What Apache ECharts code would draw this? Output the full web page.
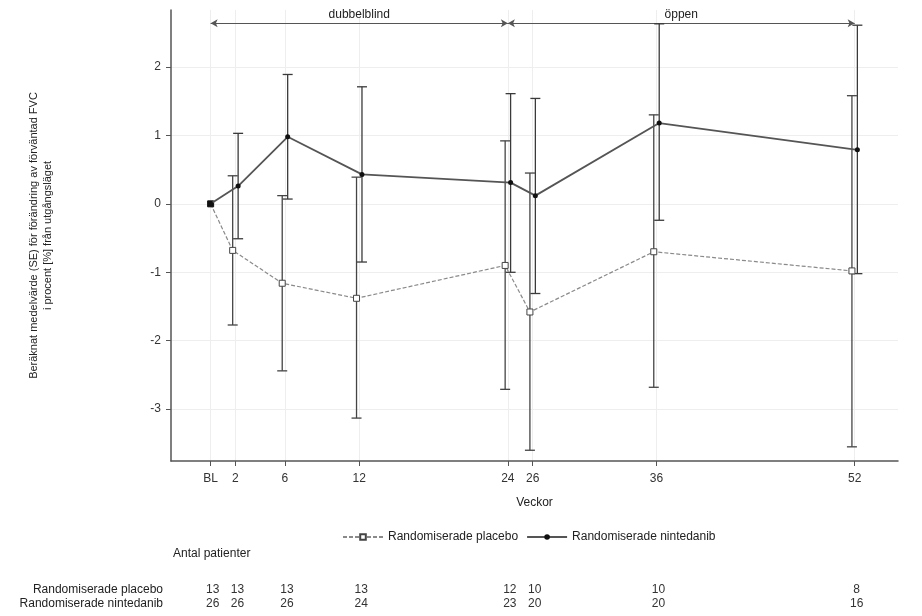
<!DOCTYPE html>
<html>
<head>
<meta charset="utf-8">
<script src="https://cdn.jsdelivr.net/npm/echarts@6/dist/echarts.min.js"></script>
<style>
  html, body { margin: 0; padding: 0; background: #fff; }
  #main { width: 922px; height: 616px; }
</style>
</head>
<body>
<div id="main"></div>
<script>
// veckor (BL = vecka 0)
var weeks = [0, 2, 6, 12, 24, 26, 36, 52];
var tickLabels = ['BL', '2', '6', '12', '24', '26', '36', '52'];
var yTicks = [-3, -2, -1, 0, 1, 2];

// placebo: medel, nedre och övre SE-gräns
var placeboMean = [0, -0.68, -1.16, -1.38, -0.90, -1.58, -0.70, -0.98];
var placeboLow  = [0, -1.77, -2.44, -3.13, -2.71, -3.60, -2.68, -3.55];
var placeboHigh = [0, 0.41, 0.12, 0.39, 0.92, 0.45, 1.30, 1.58];

// nintedanib
var ninMean = [0, 0.26, 0.98, 0.43, 0.31, 0.12, 1.18, 0.79];
var ninLow  = [0, -0.51, 0.07, -0.85, -1.00, -1.31, -0.24, -1.02];
var ninHigh = [0, 1.03, 1.89, 1.71, 1.61, 1.54, 2.63, 2.61];

// antal patienter
var placeboN = [13, 13, 13, 13, 12, 10, 10, 8];
var ninN     = [26, 26, 26, 24, 23, 20, 20, 16];

var periodNames = ['dubbelblind', 'öppen'];
var periodStart = [0, 24];
var periodEnd   = [24, 52];

var FONT = 'Liberation Sans, Arial, sans-serif';
var DODGE = 0.22;      // sidoförskjutning i veckor
var ARROW_Y = 2.64;

function dodge(w, dir) { return w === 0 ? w : w + dir * DODGE; }

function errorData(low, high, dir) {
    return weeks.map(function (w, i) { return [dodge(w, dir), low[i], high[i]]; });
}
function lineData(mean, dir, baseStyle) {
    return weeks.map(function (w, i) {
        var item = { value: [dodge(w, dir), mean[i]] };
        if (w === 0 && baseStyle) item.itemStyle = baseStyle;
        return item;
    });
}

function renderErr(color) {
    return function (params, api) {
        var lo = api.value(1), hi = api.value(2);
        if (lo === hi) return;
        var a = api.coord([api.value(0), hi]);
        var b = api.coord([api.value(0), lo]);
        var cap = 5;
        var st = { stroke: color, lineWidth: 1.3 };
        return {
            type: 'group',
            children: [
                { type: 'line', shape: { x1: a[0], y1: a[1], x2: b[0], y2: b[1] }, style: st },
                { type: 'line', shape: { x1: a[0] - cap, y1: a[1], x2: a[0] + cap, y2: a[1] }, style: st },
                { type: 'line', shape: { x1: b[0] - cap, y1: b[1], x2: b[0] + cap, y2: b[1] }, style: st }
            ]
        };
    };
}

var chart = echarts.init(document.getElementById('main'));

var option = {
    backgroundColor: '#fff',
    animation: false,
    textStyle: { fontFamily: FONT },
    grid: { left: 171, right: 24, top: 10, bottom: 155 },
    xAxis: {
        type: 'value',
        min: -3.2,
        max: 55.5,
        name: 'Veckor',
        nameLocation: 'middle',
        nameGap: 36,
        nameTextStyle: { color: '#222', fontSize: 12, fontFamily: FONT },
        axisLine: { onZero: false, lineStyle: { color: '#555', width: 1.5 } },
        axisTick: { customValues: weeks, length: 5, lineStyle: { color: '#555' } },
        axisLabel: {
            customValues: weeks,
            margin: 12,
            color: '#333',
            fontSize: 12,
            fontFamily: FONT,
            formatter: function (v) {
                var i = weeks.indexOf(v);
                return i >= 0 ? tickLabels[i] : '';
            }
        },
        splitLine: { show: false }
    },
    yAxis: {
        type: 'value',
        min: -3.757,
        max: 2.832,
        name: 'Beräknat medelvärde (SE) för förändring av förväntad FVC\ni procent [%] från utgångsläget',
        nameLocation: 'middle',
        nameGap: 116,
        nameTextStyle: { color: '#222', fontSize: 11, fontFamily: FONT, lineHeight: 14 },
        axisLine: { show: true, onZero: false, lineStyle: { color: '#555', width: 1.5 } },
        axisTick: { show: true, customValues: yTicks, length: 5, lineStyle: { color: '#555' } },
        axisLabel: { customValues: yTicks, margin: 10, color: '#333', fontSize: 12, fontFamily: FONT },
        splitLine: { show: false }
    },
    legend: {
        data: ['Randomiserade placebo', 'Randomiserade nintedanib'],
        left: 337,
        top: 526,
        itemWidth: 40,
        itemHeight: 7,
        itemGap: 8,
        textStyle: { color: '#222', fontSize: 12, fontFamily: FONT }
    },
    series: [
        {
            name: 'grid',
            type: 'line',
            data: [],
            z: 0,
            silent: true,
            markLine: {
                z: 0,
                silent: true,
                symbol: ['none', 'none'],
                label: { show: false },
                lineStyle: { color: '#eeeeee', width: 1, type: 'solid' },
                data: weeks.map(function (w) { return { xAxis: w }; })
                    .concat(yTicks.map(function (t) { return { yAxis: t }; }))
            }
        },
        {
            name: 'perioder',
            type: 'line',
            data: [],
            z: 5,
            silent: true,
            markLine: {
                z: 1,
                silent: true,
                symbol: ['arrow', 'arrow'],
                symbolSize: [6, 7],
                lineStyle: { color: '#555', width: 1.2, type: 'solid' },
                label: {
                    show: true,
                    position: 'middle',
                    color: '#222',
                    fontSize: 12,
                    fontFamily: FONT,
                    distance: 2,
                    formatter: function (p) { return p.name; }
                },
                data: periodNames.map(function (n, i) {
                    return [
                        { name: n, coord: [periodStart[i], ARROW_Y] },
                        { coord: [periodEnd[i], ARROW_Y] }
                    ];
                })
            }
        },
        {
            name: 'placebo SE',
            type: 'custom',
            z: 2,
            renderItem: renderErr('#444'),
            encode: { x: 0, y: [1, 2] },
            data: errorData(placeboLow, placeboHigh, -1)
        },
        {
            name: 'nintedanib SE',
            type: 'custom',
            z: 2,
            renderItem: renderErr('#3a3a3a'),
            encode: { x: 0, y: [1, 2] },
            data: errorData(ninLow, ninHigh, 1)
        },
        {
            name: 'Randomiserade placebo',
            type: 'line',
            z: 3,
            data: lineData(placeboMean, -1, { color: '#111', borderColor: '#111' }),
            symbol: 'rect',
            symbolSize: 6,
            lineStyle: { color: '#8a8a8a', width: 1.2, type: [4, 2] },
            itemStyle: { color: '#fff', borderColor: '#444', borderWidth: 1 }
        },
        {
            name: 'Randomiserade nintedanib',
            type: 'line',
            z: 4,
            data: lineData(ninMean, 1, null),
            symbol: 'circle',
            symbolSize: 5,
            lineStyle: { color: '#555', width: 1.8 },
            itemStyle: { color: '#111', borderColor: '#111', borderWidth: 0 }
        }
    ]
};

chart.setOption(option);

// tabell med antal patienter under x-axeln
var graphics = [
    { type: 'text', left: 173, top: 548,
      style: { text: 'Antal patienter', fill: '#222', font: '12px ' + FONT } },
    { type: 'text', right: 922 - 163, top: 584,
      style: { text: 'Randomiserade placebo', fill: '#222', font: '12px ' + FONT } },
    { type: 'text', right: 922 - 163, top: 598,
      style: { text: 'Randomiserade nintedanib', fill: '#222', font: '12px ' + FONT } }
];
weeks.forEach(function (w, i) {
    var x = chart.convertToPixel({ xAxisIndex: 0 }, w);
    graphics.push({ type: 'text', x: x + 2, y: 590,
        style: { text: String(placeboN[i]), fill: '#333', font: '12px ' + FONT, align: 'center', verticalAlign: 'middle' } });
    graphics.push({ type: 'text', x: x + 2, y: 604,
        style: { text: String(ninN[i]), fill: '#333', font: '12px ' + FONT, align: 'center', verticalAlign: 'middle' } });
});
chart.setOption({ graphic: graphics });
</script>
</body>
</html>
